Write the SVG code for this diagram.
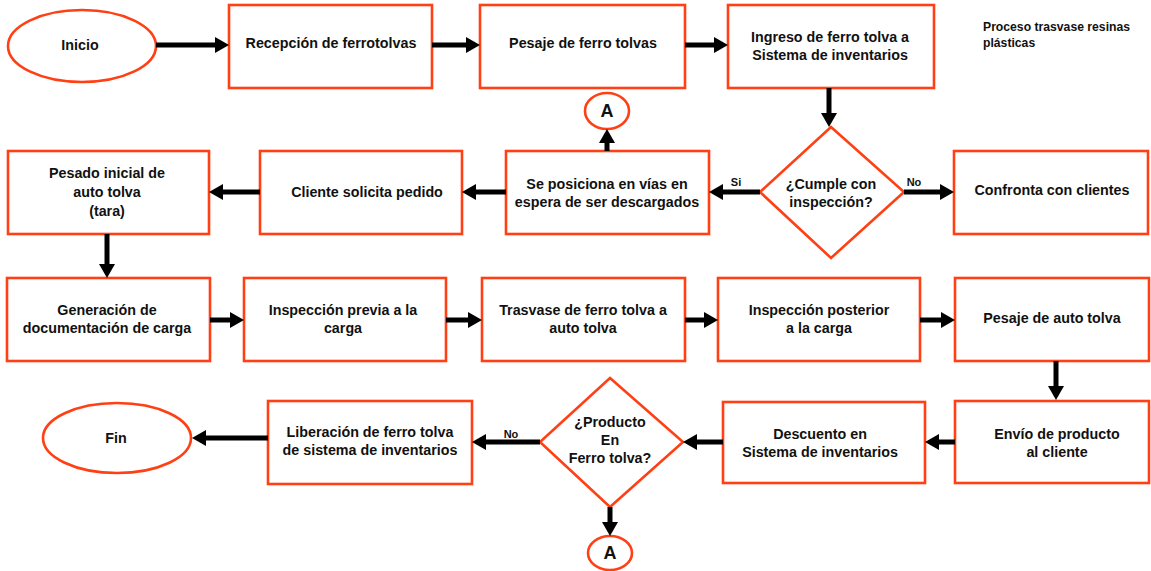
<svg xmlns="http://www.w3.org/2000/svg" width="1151" height="571" viewBox="0 0 1151 571">
<defs>
<marker id="ah" viewBox="0 0 14 16" refX="1" refY="8" markerWidth="14" markerHeight="16" markerUnits="userSpaceOnUse" orient="auto">
<path d="M0,0 L14,8 L0,16 z" fill="#000"/>
</marker>
<style>
.n{fill:#fff;stroke:#FF3F14;stroke-width:2.6}
.t{font-family:"Liberation Sans",Arial,sans-serif;font-weight:bold;font-size:14.3px;fill:#111;text-anchor:middle}
.a{font-family:"Liberation Sans",Arial,sans-serif;font-weight:bold;font-size:18px;fill:#111;text-anchor:middle}
.s{font-family:"Liberation Sans",Arial,sans-serif;font-weight:bold;font-size:12.2px;fill:#111}
.l{font-family:"Liberation Sans",Arial,sans-serif;font-weight:bold;font-size:11px;fill:#111;text-anchor:middle}
.c{fill:none;stroke:#000;stroke-width:5;marker-end:url(#ah)}
</style>
</defs>
<rect width="1151" height="571" fill="#fff"/>
<g id="inicio"><ellipse class="n" cx="82" cy="46" rx="74" ry="36"/><text class="t" x="80" y="50">Inicio</text></g>
<g id="recepcion"><rect class="n" x="229" y="5" width="203" height="83"/><text class="t" x="331" y="48">Recepción de ferrotolvas</text></g>
<g id="pesaje-ferro"><rect class="n" x="480" y="5" width="205" height="83"/><text class="t" x="583" y="48">Pesaje de ferro tolvas</text></g>
<g id="ingreso"><rect class="n" x="728" y="5" width="206" height="83"/><text class="t" x="830" y="42">Ingreso de ferro tolva a</text><text class="t" x="830" y="60">Sistema de inventarios</text></g>
<g id="titulo"><text class="s" x="983" y="31">Proceso trasvase resinas</text><text class="s" x="983" y="47">plásticas</text></g>
<g id="a-top"><ellipse class="n" cx="607" cy="111" rx="22" ry="18"/><text class="a" x="607" y="117">A</text></g>
<g id="pesado-inicial"><rect class="n" x="8" y="151" width="201" height="83"/><text class="t" x="107" y="178">Pesado inicial de</text><text class="t" x="107" y="197">auto tolva</text><text class="t" x="107" y="216">(tara)</text></g>
<g id="cliente"><rect class="n" x="260" y="151" width="202" height="83"/><text class="t" x="367" y="197">Cliente solicita pedido</text></g>
<g id="posiciona"><rect class="n" x="506" y="151" width="203" height="83"/><text class="t" x="607" y="189">Se posiciona en vías en</text><text class="t" x="607" y="207">espera de ser descargados</text></g>
<g id="cumple"><polygon class="n" points="831,127 904,192 831,258 760,192"/><text class="t" x="831" y="189">¿Cumple con</text><text class="t" x="831" y="207">inspección?</text></g>
<g id="confronta"><rect class="n" x="954" y="151" width="194" height="83"/><text class="t" x="1052" y="195">Confronta con clientes</text></g>
<g id="generacion"><rect class="n" x="7" y="278" width="203" height="83"/><text class="t" x="107" y="315">Generación de</text><text class="t" x="107" y="333">documentación de carga</text></g>
<g id="insp-previa"><rect class="n" x="244" y="278" width="202" height="83"/><text class="t" x="343" y="315">Inspección previa a la</text><text class="t" x="343" y="333">carga</text></g>
<g id="trasvase"><rect class="n" x="482" y="278" width="203" height="83"/><text class="t" x="583" y="315">Trasvase de ferro tolva a</text><text class="t" x="583" y="333">auto tolva</text></g>
<g id="insp-posterior"><rect class="n" x="718" y="278" width="202" height="83"/><text class="t" x="819" y="315">Inspección posterior</text><text class="t" x="819" y="333">a la carga</text></g>
<g id="pesaje-auto"><rect class="n" x="955" y="278" width="194" height="83"/><text class="t" x="1052" y="323">Pesaje de auto tolva</text></g>
<g id="envio"><rect class="n" x="955" y="401" width="194" height="82"/><text class="t" x="1057" y="439">Envío de producto</text><text class="t" x="1057" y="457">al cliente</text></g>
<g id="descuento"><rect class="n" x="723" y="402" width="202" height="81"/><text class="t" x="820" y="439">Descuento en</text><text class="t" x="820" y="457">Sistema de inventarios</text></g>
<g id="producto"><polygon class="n" points="610,378 683,442 610,507 540,442"/><text class="t" x="610" y="427">¿Producto</text><text class="t" x="610" y="445">En</text><text class="t" x="610" y="463">Ferro tolva?</text></g>
<g id="liberacion"><rect class="n" x="268" y="401" width="204" height="83"/><text class="t" x="370" y="437">Liberación de ferro tolva</text><text class="t" x="370" y="455">de sistema de inventarios</text></g>
<g id="fin"><ellipse class="n" cx="117" cy="438" rx="74" ry="35"/><text class="t" x="116" y="443">Fin</text></g>
<g id="a-bottom"><ellipse class="n" cx="610" cy="553" rx="22" ry="17"/><text class="a" x="610" y="559">A</text></g>
<g id="connectors">
<path class="c" d="M156,45 H216"/>
<path class="c" d="M432,45 H467"/>
<path class="c" d="M685,45 H715"/>
<path class="c" d="M829,88 V114"/>
<path class="c" d="M760,192 H722"/>
<path class="c" d="M904,192 H941"/>
<path class="c" d="M607,151 V142"/>
<path class="c" d="M506,192 H475"/>
<path class="c" d="M260,192 H222"/>
<path class="c" d="M107,234 V265"/>
<path class="c" d="M210,320 H231"/>
<path class="c" d="M446,320 H469"/>
<path class="c" d="M685,320 H705"/>
<path class="c" d="M920,320 H942"/>
<path class="c" d="M1056,361 V387"/>
<path class="c" d="M955,442 H938"/>
<path class="c" d="M723,442 H696"/>
<path class="c" d="M540,442 H485"/>
<path class="c" d="M268,438 H205"/>
<path class="c" d="M610,507 V523"/>
<text class="l" x="736" y="186">Si</text>
<text class="l" x="914" y="186">No</text>
<text class="l" x="511" y="438">No</text>
</g>
</svg>
